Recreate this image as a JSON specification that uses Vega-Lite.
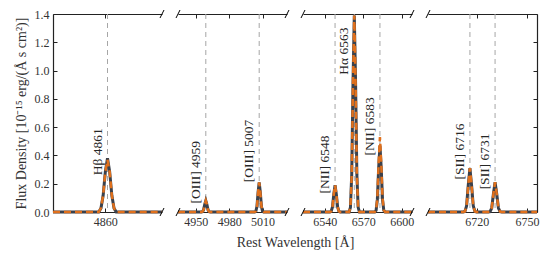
{
  "$schema": "https://vega.github.io/schema/vega-lite/v6.json",
  "padding": {"left": 14, "top": 8, "right": 5, "bottom": 5},
  "background": "white",
  "spacing": 16,
  "bounds": "flush",
  "datasets": {
    "spec": [
      {"panel": 1, "series": "obs", "wl": 4836, "flux": 0},
      {"panel": 1, "series": "obs", "wl": 4857, "flux": 0},
      {"panel": 1, "series": "obs", "wl": 4858, "flux": 0.027},
      {"panel": 1, "series": "obs", "wl": 4859, "flux": 0.116},
      {"panel": 1, "series": "obs", "wl": 4860, "flux": 0.283},
      {"panel": 1, "series": "obs", "wl": 4861, "flux": 0.38},
      {"panel": 1, "series": "obs", "wl": 4862, "flux": 0.283},
      {"panel": 1, "series": "obs", "wl": 4863, "flux": 0.116},
      {"panel": 1, "series": "obs", "wl": 4864, "flux": 0.027},
      {"panel": 1, "series": "obs", "wl": 4865, "flux": 0},
      {"panel": 1, "series": "obs", "wl": 4886, "flux": 0},
      {"panel": 1, "series": "fit", "wl": 4836, "flux": 0},
      {"panel": 1, "series": "fit", "wl": 4857, "flux": 0},
      {"panel": 1, "series": "fit", "wl": 4858, "flux": 0.027},
      {"panel": 1, "series": "fit", "wl": 4859, "flux": 0.116},
      {"panel": 1, "series": "fit", "wl": 4860, "flux": 0.283},
      {"panel": 1, "series": "fit", "wl": 4861, "flux": 0.37},
      {"panel": 1, "series": "fit", "wl": 4862, "flux": 0.283},
      {"panel": 1, "series": "fit", "wl": 4863, "flux": 0.116},
      {"panel": 1, "series": "fit", "wl": 4864, "flux": 0.027},
      {"panel": 1, "series": "fit", "wl": 4865, "flux": 0},
      {"panel": 1, "series": "fit", "wl": 4886, "flux": 0},

      {"panel": 2, "series": "obs", "wl": 4934, "flux": 0},
      {"panel": 2, "series": "obs", "wl": 4955, "flux": 0},
      {"panel": 2, "series": "obs", "wl": 4956, "flux": 0.002},
      {"panel": 2, "series": "obs", "wl": 4957, "flux": 0.015},
      {"panel": 2, "series": "obs", "wl": 4958, "flux": 0.053},
      {"panel": 2, "series": "obs", "wl": 4959, "flux": 0.08},
      {"panel": 2, "series": "obs", "wl": 4960, "flux": 0.053},
      {"panel": 2, "series": "obs", "wl": 4961, "flux": 0.015},
      {"panel": 2, "series": "obs", "wl": 4962, "flux": 0.002},
      {"panel": 2, "series": "obs", "wl": 4963, "flux": 0},
      {"panel": 2, "series": "obs", "wl": 5003, "flux": 0},
      {"panel": 2, "series": "obs", "wl": 5004, "flux": 0.005},
      {"panel": 2, "series": "obs", "wl": 5005, "flux": 0.04},
      {"panel": 2, "series": "obs", "wl": 5006, "flux": 0.139},
      {"panel": 2, "series": "obs", "wl": 5007, "flux": 0.21},
      {"panel": 2, "series": "obs", "wl": 5008, "flux": 0.139},
      {"panel": 2, "series": "obs", "wl": 5009, "flux": 0.04},
      {"panel": 2, "series": "obs", "wl": 5010, "flux": 0.005},
      {"panel": 2, "series": "obs", "wl": 5011, "flux": 0},
      {"panel": 2, "series": "obs", "wl": 5032, "flux": 0},
      {"panel": 2, "series": "fit", "wl": 4934, "flux": 0},
      {"panel": 2, "series": "fit", "wl": 4955, "flux": 0},
      {"panel": 2, "series": "fit", "wl": 4956, "flux": 0.002},
      {"panel": 2, "series": "fit", "wl": 4957, "flux": 0.015},
      {"panel": 2, "series": "fit", "wl": 4958, "flux": 0.053},
      {"panel": 2, "series": "fit", "wl": 4959, "flux": 0.08},
      {"panel": 2, "series": "fit", "wl": 4960, "flux": 0.053},
      {"panel": 2, "series": "fit", "wl": 4961, "flux": 0.015},
      {"panel": 2, "series": "fit", "wl": 4962, "flux": 0.002},
      {"panel": 2, "series": "fit", "wl": 4963, "flux": 0},
      {"panel": 2, "series": "fit", "wl": 5003, "flux": 0},
      {"panel": 2, "series": "fit", "wl": 5004, "flux": 0.005},
      {"panel": 2, "series": "fit", "wl": 5005, "flux": 0.04},
      {"panel": 2, "series": "fit", "wl": 5006, "flux": 0.139},
      {"panel": 2, "series": "fit", "wl": 5007, "flux": 0.21},
      {"panel": 2, "series": "fit", "wl": 5008, "flux": 0.139},
      {"panel": 2, "series": "fit", "wl": 5009, "flux": 0.04},
      {"panel": 2, "series": "fit", "wl": 5010, "flux": 0.005},
      {"panel": 2, "series": "fit", "wl": 5011, "flux": 0},
      {"panel": 2, "series": "fit", "wl": 5032, "flux": 0},

      {"panel": 3, "series": "obs", "wl": 6523, "flux": 0},
      {"panel": 3, "series": "obs", "wl": 6544, "flux": 0},
      {"panel": 3, "series": "obs", "wl": 6545, "flux": 0.005},
      {"panel": 3, "series": "obs", "wl": 6546, "flux": 0.036},
      {"panel": 3, "series": "obs", "wl": 6547, "flux": 0.125},
      {"panel": 3, "series": "obs", "wl": 6548, "flux": 0.19},
      {"panel": 3, "series": "obs", "wl": 6549, "flux": 0.125},
      {"panel": 3, "series": "obs", "wl": 6550, "flux": 0.036},
      {"panel": 3, "series": "obs", "wl": 6551, "flux": 0.005},
      {"panel": 3, "series": "obs", "wl": 6552, "flux": 0},
      {"panel": 3, "series": "obs", "wl": 6559, "flux": 0},
      {"panel": 3, "series": "obs", "wl": 6560, "flux": 0.033},
      {"panel": 3, "series": "obs", "wl": 6561, "flux": 0.264},
      {"panel": 3, "series": "obs", "wl": 6562, "flux": 0.917},
      {"panel": 3, "series": "obs", "wl": 6563, "flux": 1.39},
      {"panel": 3, "series": "obs", "wl": 6564, "flux": 0.917},
      {"panel": 3, "series": "obs", "wl": 6565, "flux": 0.264},
      {"panel": 3, "series": "obs", "wl": 6566, "flux": 0.033},
      {"panel": 3, "series": "obs", "wl": 6567, "flux": 0},
      {"panel": 3, "series": "obs", "wl": 6579, "flux": 0},
      {"panel": 3, "series": "obs", "wl": 6580, "flux": 0.011},
      {"panel": 3, "series": "obs", "wl": 6581, "flux": 0.089},
      {"panel": 3, "series": "obs", "wl": 6582, "flux": 0.31},
      {"panel": 3, "series": "obs", "wl": 6583, "flux": 0.47},
      {"panel": 3, "series": "obs", "wl": 6584, "flux": 0.31},
      {"panel": 3, "series": "obs", "wl": 6585, "flux": 0.089},
      {"panel": 3, "series": "obs", "wl": 6586, "flux": 0.011},
      {"panel": 3, "series": "obs", "wl": 6587, "flux": 0},
      {"panel": 3, "series": "obs", "wl": 6608, "flux": 0},
      {"panel": 3, "series": "fit", "wl": 6523, "flux": 0},
      {"panel": 3, "series": "fit", "wl": 6544, "flux": 0},
      {"panel": 3, "series": "fit", "wl": 6545, "flux": 0.005},
      {"panel": 3, "series": "fit", "wl": 6546, "flux": 0.036},
      {"panel": 3, "series": "fit", "wl": 6547, "flux": 0.125},
      {"panel": 3, "series": "fit", "wl": 6548, "flux": 0.19},
      {"panel": 3, "series": "fit", "wl": 6549, "flux": 0.125},
      {"panel": 3, "series": "fit", "wl": 6550, "flux": 0.036},
      {"panel": 3, "series": "fit", "wl": 6551, "flux": 0.005},
      {"panel": 3, "series": "fit", "wl": 6552, "flux": 0},
      {"panel": 3, "series": "fit", "wl": 6559, "flux": 0},
      {"panel": 3, "series": "fit", "wl": 6560, "flux": 0.033},
      {"panel": 3, "series": "fit", "wl": 6561, "flux": 0.264},
      {"panel": 3, "series": "fit", "wl": 6562, "flux": 0.917},
      {"panel": 3, "series": "fit", "wl": 6563, "flux": 1.39},
      {"panel": 3, "series": "fit", "wl": 6564, "flux": 0.917},
      {"panel": 3, "series": "fit", "wl": 6565, "flux": 0.264},
      {"panel": 3, "series": "fit", "wl": 6566, "flux": 0.033},
      {"panel": 3, "series": "fit", "wl": 6567, "flux": 0},
      {"panel": 3, "series": "fit", "wl": 6579, "flux": 0},
      {"panel": 3, "series": "fit", "wl": 6580, "flux": 0.013},
      {"panel": 3, "series": "fit", "wl": 6581, "flux": 0.1},
      {"panel": 3, "series": "fit", "wl": 6582, "flux": 0.35},
      {"panel": 3, "series": "fit", "wl": 6583, "flux": 0.53},
      {"panel": 3, "series": "fit", "wl": 6584, "flux": 0.35},
      {"panel": 3, "series": "fit", "wl": 6585, "flux": 0.1},
      {"panel": 3, "series": "fit", "wl": 6586, "flux": 0.013},
      {"panel": 3, "series": "fit", "wl": 6587, "flux": 0},
      {"panel": 3, "series": "fit", "wl": 6608, "flux": 0},

      {"panel": 4, "series": "obs", "wl": 6691, "flux": 0},
      {"panel": 4, "series": "obs", "wl": 6712, "flux": 0},
      {"panel": 4, "series": "obs", "wl": 6713, "flux": 0.003},
      {"panel": 4, "series": "obs", "wl": 6714, "flux": 0.042},
      {"panel": 4, "series": "obs", "wl": 6715, "flux": 0.188},
      {"panel": 4, "series": "obs", "wl": 6716, "flux": 0.31},
      {"panel": 4, "series": "obs", "wl": 6717, "flux": 0.188},
      {"panel": 4, "series": "obs", "wl": 6718, "flux": 0.042},
      {"panel": 4, "series": "obs", "wl": 6719, "flux": 0.003},
      {"panel": 4, "series": "obs", "wl": 6720, "flux": 0},
      {"panel": 4, "series": "obs", "wl": 6727, "flux": 0},
      {"panel": 4, "series": "obs", "wl": 6728, "flux": 0.002},
      {"panel": 4, "series": "obs", "wl": 6729, "flux": 0.028},
      {"panel": 4, "series": "obs", "wl": 6730, "flux": 0.127},
      {"panel": 4, "series": "obs", "wl": 6731, "flux": 0.21},
      {"panel": 4, "series": "obs", "wl": 6732, "flux": 0.127},
      {"panel": 4, "series": "obs", "wl": 6733, "flux": 0.028},
      {"panel": 4, "series": "obs", "wl": 6734, "flux": 0.002},
      {"panel": 4, "series": "obs", "wl": 6735, "flux": 0},
      {"panel": 4, "series": "obs", "wl": 6756, "flux": 0},
      {"panel": 4, "series": "fit", "wl": 6691, "flux": 0},
      {"panel": 4, "series": "fit", "wl": 6712, "flux": 0},
      {"panel": 4, "series": "fit", "wl": 6713, "flux": 0.003},
      {"panel": 4, "series": "fit", "wl": 6714, "flux": 0.042},
      {"panel": 4, "series": "fit", "wl": 6715, "flux": 0.188},
      {"panel": 4, "series": "fit", "wl": 6716, "flux": 0.31},
      {"panel": 4, "series": "fit", "wl": 6717, "flux": 0.188},
      {"panel": 4, "series": "fit", "wl": 6718, "flux": 0.042},
      {"panel": 4, "series": "fit", "wl": 6719, "flux": 0.003},
      {"panel": 4, "series": "fit", "wl": 6720, "flux": 0},
      {"panel": 4, "series": "fit", "wl": 6727, "flux": 0},
      {"panel": 4, "series": "fit", "wl": 6728, "flux": 0.002},
      {"panel": 4, "series": "fit", "wl": 6729, "flux": 0.028},
      {"panel": 4, "series": "fit", "wl": 6730, "flux": 0.127},
      {"panel": 4, "series": "fit", "wl": 6731, "flux": 0.21},
      {"panel": 4, "series": "fit", "wl": 6732, "flux": 0.127},
      {"panel": 4, "series": "fit", "wl": 6733, "flux": 0.028},
      {"panel": 4, "series": "fit", "wl": 6734, "flux": 0.002},
      {"panel": 4, "series": "fit", "wl": 6735, "flux": 0},
      {"panel": 4, "series": "fit", "wl": 6756, "flux": 0}
    ],
    "lines": [
      {"panel": 1, "wl": 4861, "label": "Hβ 4861", "ly": 0.26},
      {"panel": 2, "wl": 4959, "label": "[OIII] 4959", "ly": 0.06},
      {"panel": 2, "wl": 5007, "label": "[OIII] 5007", "ly": 0.21},
      {"panel": 3, "wl": 6548, "label": "[NII] 6548", "ly": 0.13},
      {"panel": 3, "wl": 6563, "label": "Hα 6563", "ly": 0.97},
      {"panel": 3, "wl": 6583, "label": "[NII] 6583", "ly": 0.4},
      {"panel": 4, "wl": 6716, "label": "[SII] 6716", "ly": 0.23},
      {"panel": 4, "wl": 6731, "label": "[SII] 6731", "ly": 0.16}
    ],
    "breaks": [
      {"panel": 1, "x": 4886, "y": 0},
      {"panel": 1, "x": 4886, "y": 1.4},
      {"panel": 2, "x": 4934, "y": 0},
      {"panel": 2, "x": 4934, "y": 1.4},
      {"panel": 2, "x": 5032, "y": 0},
      {"panel": 2, "x": 5032, "y": 1.4},
      {"panel": 3, "x": 6523, "y": 0},
      {"panel": 3, "x": 6523, "y": 1.4},
      {"panel": 3, "x": 6608, "y": 0},
      {"panel": 3, "x": 6608, "y": 1.4},
      {"panel": 4, "x": 6691, "y": 0},
      {"panel": 4, "x": 6691, "y": 1.4}
    ]
  },
  "hconcat": [
    {
      "width": 109, "height": 198,
      "resolve": {"axis": {"x": "independent", "y": "independent"}},
      "layer": [
        {"data": {"name": "lines"}, "transform": [{"filter": "datum.panel == 1"}],
         "mark": {"type": "rule", "color": "#a6a6a6", "strokeWidth": 1, "strokeDash": [5, 4]},
         "encoding": {"x": {"field": "wl", "type": "quantitative", "scale": {"domain": [4836, 4886], "nice": false, "zero": false},
           "axis": {"orient": "bottom", "values": [4860], "format": "d", "title": null, "tickSize": -4, "labelPadding": 8}}}},
        {"data": {"name": "spec"}, "transform": [{"filter": "datum.panel == 1 && datum.series == 'obs'"}],
         "mark": {"type": "line", "color": "#3a414c", "strokeWidth": 3},
         "encoding": {
           "x": {"field": "wl", "type": "quantitative", "axis": {"orient": "top", "values": [4860], "labels": false, "title": null, "tickSize": -4}},
           "y": {"field": "flux", "type": "quantitative", "scale": {"domain": [0, 1.4], "nice": false},
             "axis": {"orient": "left", "values": [0, 0.2, 0.4, 0.6, 0.8, 1.0, 1.2, 1.4], "format": ".1f", "tickSize": -4, "labelPadding": 8,
               "title": "Flux Density [10⁻¹⁵ erg/(Å s cm²)]", "titlePadding": 6}}}},
        {"data": {"name": "spec"}, "transform": [{"filter": "datum.panel == 1 && datum.series == 'fit'"}],
         "mark": {"type": "line", "color": "#e0701c", "strokeWidth": 2.5, "strokeDash": [7, 4]},
         "encoding": {"x": {"field": "wl", "type": "quantitative", "axis": null}, "y": {"field": "flux", "type": "quantitative", "axis": null}}},
        {"data": {"name": "lines"}, "transform": [{"filter": "datum.panel == 1"}],
         "mark": {"type": "text", "angle": 270, "align": "left", "baseline": "bottom", "dy": -3, "font": "Liberation Serif", "fontSize": 13.5, "color": "#262626"},
         "encoding": {"x": {"field": "wl", "type": "quantitative", "axis": null}, "y": {"field": "ly", "type": "quantitative", "axis": null}, "text": {"field": "label"}}},
        {"data": {"name": "breaks"}, "transform": [{"filter": "datum.panel == 1"}],
         "mark": {"type": "point", "shape": "M -0.4 0.8 L 0.4 -0.8", "size": 100, "filled": false, "stroke": "#000", "strokeWidth": 1, "opacity": 1},
         "encoding": {"x": {"field": "x", "type": "quantitative", "axis": null}, "y": {"field": "y", "type": "quantitative", "axis": null}}}
      ]
    },
    {
      "width": 109, "height": 198,
      "resolve": {"axis": {"x": "independent", "y": "independent"}},
      "layer": [
        {"data": {"name": "lines"}, "transform": [{"filter": "datum.panel == 2"}],
         "mark": {"type": "rule", "color": "#a6a6a6", "strokeWidth": 1, "strokeDash": [5, 4]},
         "encoding": {"x": {"field": "wl", "type": "quantitative", "scale": {"domain": [4934, 5032], "nice": false, "zero": false},
           "axis": {"orient": "bottom", "values": [4950, 4980, 5010], "format": "d", "tickSize": -4, "labelPadding": 8,
             "title": "Rest Wavelength [Å]", "titleX": 117, "titleAlign": "center", "titlePadding": 8}}}},
        {"data": {"name": "spec"}, "transform": [{"filter": "datum.panel == 2 && datum.series == 'obs'"}],
         "mark": {"type": "line", "color": "#3a414c", "strokeWidth": 3},
         "encoding": {
           "x": {"field": "wl", "type": "quantitative", "axis": {"orient": "top", "values": [4950, 4980, 5010], "labels": false, "title": null, "tickSize": -4}},
           "y": {"field": "flux", "type": "quantitative", "scale": {"domain": [0, 1.4], "nice": false}, "axis": null}}},
        {"data": {"name": "spec"}, "transform": [{"filter": "datum.panel == 2 && datum.series == 'fit'"}],
         "mark": {"type": "line", "color": "#e0701c", "strokeWidth": 2.5, "strokeDash": [7, 4]},
         "encoding": {"x": {"field": "wl", "type": "quantitative", "axis": null}, "y": {"field": "flux", "type": "quantitative", "axis": null}}},
        {"data": {"name": "lines"}, "transform": [{"filter": "datum.panel == 2"}],
         "mark": {"type": "text", "angle": 270, "align": "left", "baseline": "bottom", "dy": -3, "font": "Liberation Serif", "fontSize": 13.5, "color": "#262626"},
         "encoding": {"x": {"field": "wl", "type": "quantitative", "axis": null}, "y": {"field": "ly", "type": "quantitative", "axis": null}, "text": {"field": "label"}}},
        {"data": {"name": "breaks"}, "transform": [{"filter": "datum.panel == 2"}],
         "mark": {"type": "point", "shape": "M -0.4 0.8 L 0.4 -0.8", "size": 100, "filled": false, "stroke": "#000", "strokeWidth": 1, "opacity": 1},
         "encoding": {"x": {"field": "x", "type": "quantitative", "axis": null}, "y": {"field": "y", "type": "quantitative", "axis": null}}}
      ]
    },
    {
      "width": 109, "height": 198,
      "resolve": {"axis": {"x": "independent", "y": "independent"}},
      "layer": [
        {"data": {"name": "lines"}, "transform": [{"filter": "datum.panel == 3"}],
         "mark": {"type": "rule", "color": "#a6a6a6", "strokeWidth": 1, "strokeDash": [5, 4]},
         "encoding": {"x": {"field": "wl", "type": "quantitative", "scale": {"domain": [6523, 6608], "nice": false, "zero": false},
           "axis": {"orient": "bottom", "values": [6540, 6570, 6600], "format": "d", "title": null, "tickSize": -4, "labelPadding": 8}}}},
        {"data": {"name": "spec"}, "transform": [{"filter": "datum.panel == 3 && datum.series == 'obs'"}],
         "mark": {"type": "line", "color": "#3a414c", "strokeWidth": 3},
         "encoding": {
           "x": {"field": "wl", "type": "quantitative", "axis": {"orient": "top", "values": [6540, 6570, 6600], "labels": false, "title": null, "tickSize": -4}},
           "y": {"field": "flux", "type": "quantitative", "scale": {"domain": [0, 1.4], "nice": false}, "axis": null}}},
        {"data": {"name": "spec"}, "transform": [{"filter": "datum.panel == 3 && datum.series == 'fit'"}],
         "mark": {"type": "line", "color": "#e0701c", "strokeWidth": 2.5, "strokeDash": [7, 4]},
         "encoding": {"x": {"field": "wl", "type": "quantitative", "axis": null}, "y": {"field": "flux", "type": "quantitative", "axis": null}}},
        {"data": {"name": "lines"}, "transform": [{"filter": "datum.panel == 3"}],
         "mark": {"type": "text", "angle": 270, "align": "left", "baseline": "bottom", "dy": -3, "font": "Liberation Serif", "fontSize": 13.5, "color": "#262626"},
         "encoding": {"x": {"field": "wl", "type": "quantitative", "axis": null}, "y": {"field": "ly", "type": "quantitative", "axis": null}, "text": {"field": "label"}}},
        {"data": {"name": "breaks"}, "transform": [{"filter": "datum.panel == 3"}],
         "mark": {"type": "point", "shape": "M -0.4 0.8 L 0.4 -0.8", "size": 100, "filled": false, "stroke": "#000", "strokeWidth": 1, "opacity": 1},
         "encoding": {"x": {"field": "x", "type": "quantitative", "axis": null}, "y": {"field": "y", "type": "quantitative", "axis": null}}}
      ]
    },
    {
      "width": 109, "height": 198,
      "resolve": {"axis": {"x": "independent", "y": "independent"}},
      "layer": [
        {"data": {"name": "lines"}, "transform": [{"filter": "datum.panel == 4"}],
         "mark": {"type": "rule", "color": "#a6a6a6", "strokeWidth": 1, "strokeDash": [5, 4]},
         "encoding": {"x": {"field": "wl", "type": "quantitative", "scale": {"domain": [6691, 6756], "nice": false, "zero": false},
           "axis": {"orient": "bottom", "values": [6720, 6750], "format": "d", "title": null, "tickSize": -4, "labelPadding": 8}}}},
        {"data": {"name": "spec"}, "transform": [{"filter": "datum.panel == 4 && datum.series == 'obs'"}],
         "mark": {"type": "line", "color": "#3a414c", "strokeWidth": 3},
         "encoding": {
           "x": {"field": "wl", "type": "quantitative", "axis": {"orient": "top", "values": [6720, 6750], "labels": false, "title": null, "tickSize": -4}},
           "y": {"field": "flux", "type": "quantitative", "scale": {"domain": [0, 1.4], "nice": false},
             "axis": {"orient": "right", "values": [0, 0.2, 0.4, 0.6, 0.8, 1.0, 1.2, 1.4], "labels": false, "title": null, "tickSize": -4}}}},
        {"data": {"name": "spec"}, "transform": [{"filter": "datum.panel == 4 && datum.series == 'fit'"}],
         "mark": {"type": "line", "color": "#e0701c", "strokeWidth": 2.5, "strokeDash": [7, 4]},
         "encoding": {"x": {"field": "wl", "type": "quantitative", "axis": null}, "y": {"field": "flux", "type": "quantitative", "axis": null}}},
        {"data": {"name": "lines"}, "transform": [{"filter": "datum.panel == 4"}],
         "mark": {"type": "text", "angle": 270, "align": "left", "baseline": "bottom", "dy": -3, "font": "Liberation Serif", "fontSize": 13.5, "color": "#262626"},
         "encoding": {"x": {"field": "wl", "type": "quantitative", "axis": null}, "y": {"field": "ly", "type": "quantitative", "axis": null}, "text": {"field": "label"}}},
        {"data": {"name": "breaks"}, "transform": [{"filter": "datum.panel == 4"}],
         "mark": {"type": "point", "shape": "M -0.4 0.8 L 0.4 -0.8", "size": 100, "filled": false, "stroke": "#000", "strokeWidth": 1, "opacity": 1},
         "encoding": {"x": {"field": "x", "type": "quantitative", "axis": null}, "y": {"field": "y", "type": "quantitative", "axis": null}}}
      ]
    }
  ],
  "config": {
    "view": {"stroke": null},
    "axis": {"grid": false, "labelFont": "Liberation Serif", "titleFont": "Liberation Serif", "labelFontSize": 12, "titleFontSize": 14,
      "titleFontWeight": "normal", "domainColor": "#222", "tickColor": "#222", "labelColor": "#333", "titleColor": "#333", "domainWidth": 1.2, "tickWidth": 1}
  }
}
